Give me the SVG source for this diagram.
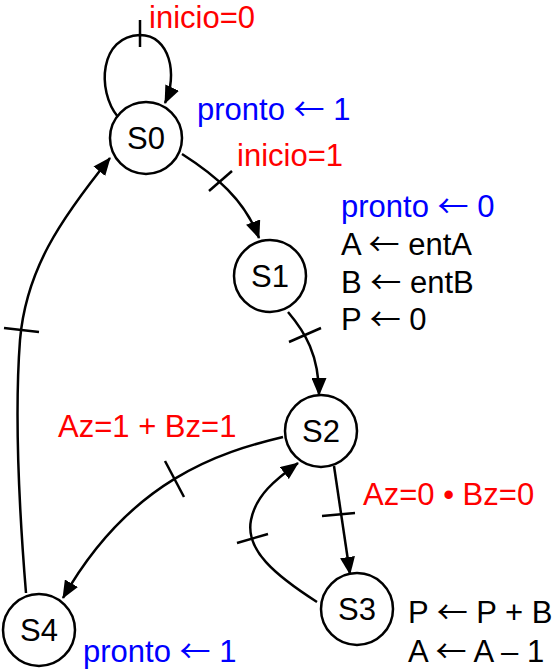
<svg xmlns="http://www.w3.org/2000/svg" width="556" height="670" viewBox="0 0 556 670">
<style>
.st{fill:#fff;stroke:#000;stroke-width:2.5}
.lb{font-family:"Liberation Sans",Arial,sans-serif;font-size:31px;fill:#000}
.sl{font-family:"Liberation Sans",Arial,sans-serif;font-size:31px;fill:#000;text-anchor:middle}
.ar{font-family:"Noto Sans CJK SC","Liberation Sans",sans-serif}
.red{fill:#ff0000}
.blue{fill:#0000ff}
.e{fill:none;stroke:#000;stroke-width:2.5}
.tk{stroke:#000;stroke-width:2.5}
</style>
<defs>
<marker id="ah" markerUnits="userSpaceOnUse" markerWidth="19" markerHeight="15" refX="17" refY="7.5" orient="auto">
<path d="M0,0 L18,7.5 L0,15 z" fill="#000"/>
</marker>
</defs>
<g id="connectors">
<path class="e" d="M118,117 C96,90 100,36 140,35 C170,35 178,75 165,103" marker-end="url(#ah)"/>
<line class="tk" x1="140" y1="20" x2="140" y2="47"/>
<path class="e" d="M182,154 C215,175 245,200 259,238" marker-end="url(#ah)"/>
<line class="tk" x1="209" y1="191" x2="232" y2="171"/>
<path class="e" d="M288,312 C305,332 319,355 319,395" marker-end="url(#ah)"/>
<line class="tk" x1="289" y1="342" x2="321" y2="328"/>
<path class="e" d="M334,466 L350,574" marker-end="url(#ah)"/>
<line class="tk" x1="322" y1="516" x2="355" y2="513"/>
<path class="e" d="M317,602 C275,575 245,550 251,520 C256,495 275,480 298,463" marker-end="url(#ah)"/>
<line class="tk" x1="237" y1="543" x2="268" y2="534"/>
<path class="e" d="M283,437 C220,452 130,480 63,598" marker-end="url(#ah)"/>
<line class="tk" x1="165" y1="461" x2="184" y2="497"/>
<path class="e" d="M26,593 C20,520 14,420 20,340 C26,270 60,220 110,158" marker-end="url(#ah)"/>
<line class="tk" x1="4" y1="328" x2="39" y2="332"/>
</g>
<g id="S0"><circle class="st" cx="146" cy="138" r="36"/><text class="sl" x="146" y="149">S0</text></g>
<g id="S1"><circle class="st" cx="270" cy="276" r="36"/><text class="sl" x="270" y="287">S1</text></g>
<g id="S2"><circle class="st" cx="321" cy="431" r="36"/><text class="sl" x="321" y="442">S2</text></g>
<g id="S3"><circle class="st" cx="357" cy="609" r="36"/><text class="sl" x="357" y="620">S3</text></g>
<g id="S4"><circle class="st" cx="39" cy="630" r="36"/><text class="sl" x="39" y="641">S4</text></g>
<g id="labels">
<text class="lb red" x="149" y="28">inicio=0</text>
<text class="lb blue" x="197" y="120">pronto <tspan class="ar">←</tspan> 1</text>
<text class="lb red" x="237" y="166">inicio=1</text>
<text class="lb blue" x="341" y="217">pronto <tspan class="ar">←</tspan> 0</text>
<text class="lb" x="341" y="255">A <tspan class="ar">←</tspan> entA</text>
<text class="lb" x="341" y="293">B <tspan class="ar">←</tspan> entB</text>
<text class="lb" x="341" y="330">P <tspan class="ar">←</tspan> 0</text>
<text class="lb red" x="58" y="437">Az=1 + Bz=1</text>
<text class="lb red" x="363" y="505">Az=0 • Bz=0</text>
<text class="lb" x="408" y="623">P <tspan class="ar">←</tspan> P + B</text>
<text class="lb" x="408" y="662">A <tspan class="ar">←</tspan> A – 1</text>
<text class="lb blue" x="83" y="662">pronto <tspan class="ar">←</tspan> 1</text>
</g>
</svg>
